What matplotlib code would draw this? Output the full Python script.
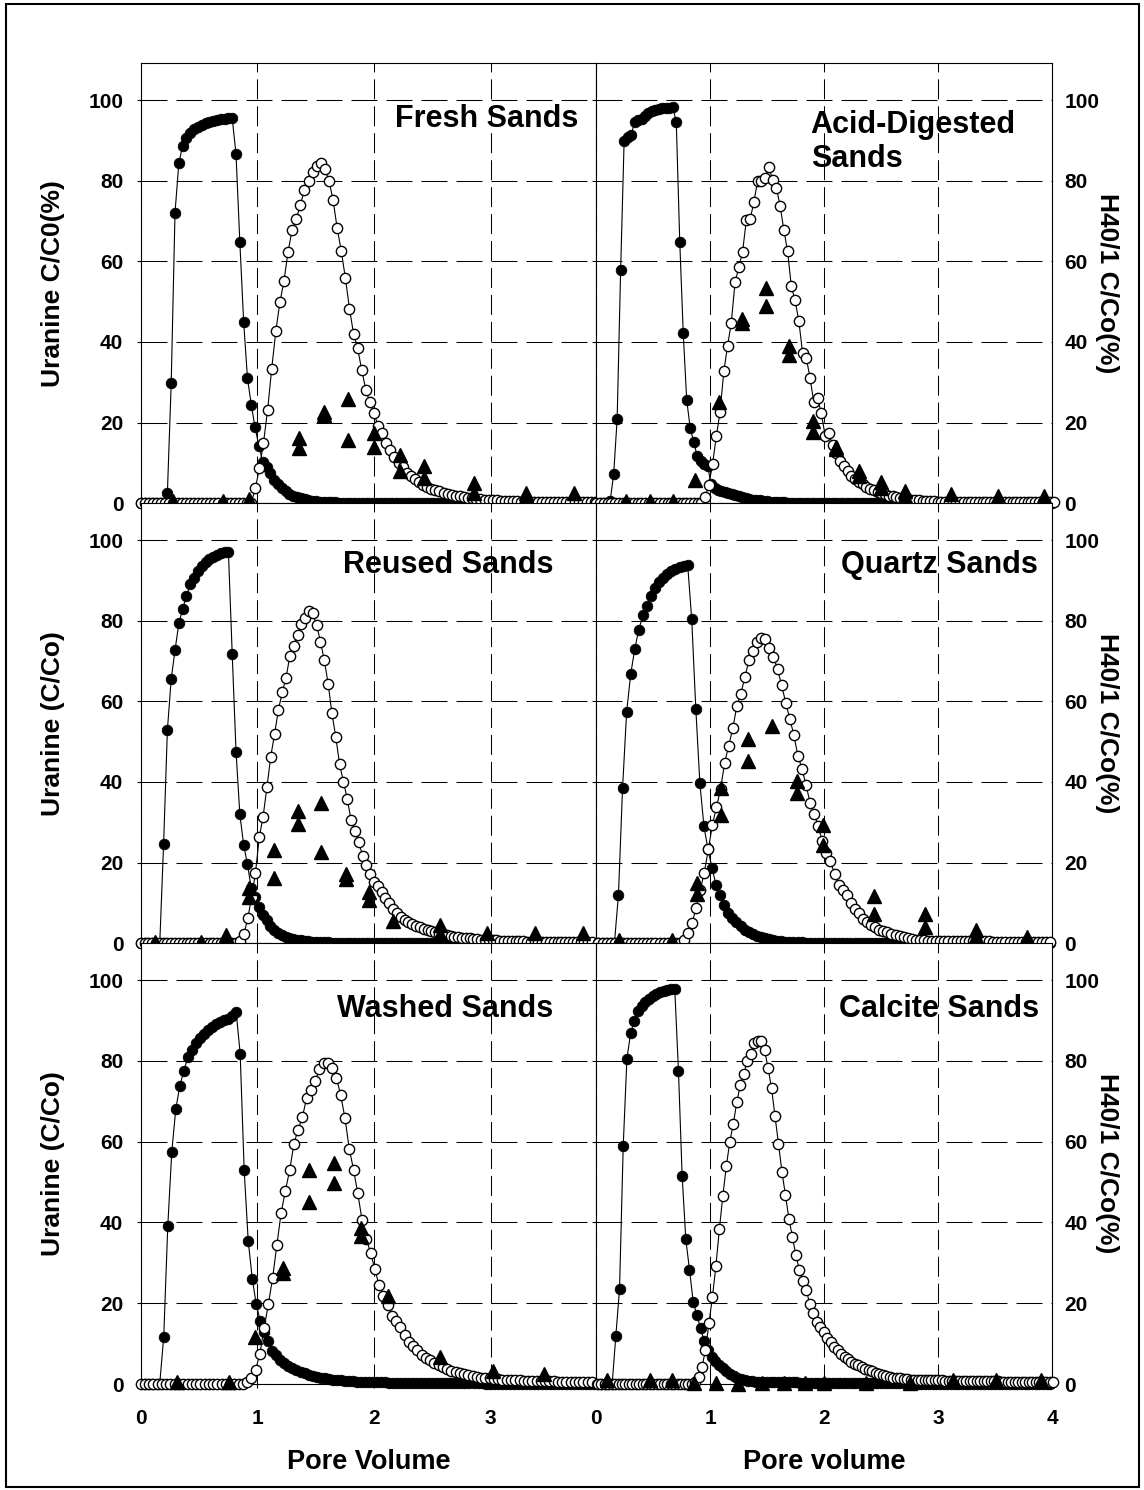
import numpy as np
import matplotlib
matplotlib.use("Agg")
import matplotlib.pyplot as plt
from matplotlib.patches import Rectangle

plt.rcParams['font.family'] = ['Liberation Sans', 'DejaVu Sans']
plt.rcParams['font.weight'] = 'bold'
plt.rcParams['axes.linewidth'] = 0.8
plt.rcParams['lines.scale_dashes'] = False

# breakthrough curves: (first pore volume, sampling interval) + C/Co readings in %
# filled circles = uranine, open circles = H40/1, triangles = H40/1 duplicate samples

fresh_ura_grid = (0.0, 0.0327)
fresh_ura = [0.0] * 7 + [
    2.6, 29.8, 72.1, 84.3, 88.7, 90.5, 91.8, 92.8, 93.4, 93.9, 94.3, 94.6, 94.9, 95.1,
    95.3, 95.4, 95.6, 95.5, 86.5, 64.7, 45.0, 31.0, 24.4, 18.8, 14.2, 10.3, 9.1, 7.4,
    5.8, 4.7, 3.8, 3.0, 2.4, 1.9, 1.5, 1.2, 1.0, 0.8, 0.6, 0.5, 0.4, 0.3, 0.3, 0.2,
    0.2, 0.1] + [0.0] * 67
fresh_h40_grid = (0.0, 0.0351)
fresh_h40 = [0.0] * 28 + [
    3.7, 8.7, 15.0, 23.1, 33.3, 42.6, 49.8, 55.1, 62.4, 67.8, 70.4, 74.0, 77.7, 79.9,
    82.2, 83.7, 84.5, 82.9, 80.0, 75.2, 68.2, 62.6, 55.9, 48.3, 42.1, 38.4, 33.1, 28.1,
    25.0, 22.3, 19.2, 17.4, 15.0, 13.2, 11.6, 9.9, 9.1, 7.6, 6.8, 6.0, 5.2, 4.5, 4.0,
    3.6, 3.3, 3.0, 2.6, 2.3, 2.1, 1.8, 1.7, 1.5, 1.4, 1.2, 1.1, 1.0, 0.9, 0.8, 0.7,
    0.7, 0.6, 0.6, 0.5, 0.5, 0.5, 0.4, 0.4, 0.4, 0.4] + [0.3] * 6 + [0.2] * 9
fresh_tri_pv = [0.28, 0.71, 0.93, 1.36, 1.36, 1.57, 1.57, 1.78, 1.78, 2.00, 2.00,
                2.22, 2.22, 2.43, 2.43, 2.86, 2.86, 3.30, 3.30, 3.72]
fresh_tri = [0.5, 0.5, 1.0, 16.1, 13.6, 22.6, 21.8, 25.8, 15.7, 17.4, 14.0,
             12.0, 7.9, 9.3, 6.2, 5.0, 2.5, 2.6, 1.6, 2.5]

acid_ura_grid = (0.0, 0.0305)
acid_ura = [0.0] * 4 + [
    0.6, 7.3, 21.0, 57.9, 89.8, 90.8, 91.2, 94.5, 95.0, 95.4, 96.0, 96.8, 97.3, 97.5,
    97.8, 98.0, 98.0, 98.1, 98.3, 94.5, 64.9, 42.3, 25.6, 18.7, 15.2, 11.8, 10.6, 9.8,
    9.3, 4.8, 3.9, 3.4, 3.1, 2.8, 2.6, 2.3, 2.0, 1.8, 1.5, 1.3, 1.1, 0.9, 0.8, 0.7,
    0.6, 0.5, 0.4, 0.3, 0.3, 0.2, 0.2, 0.1] + [0.0] * 76
acid_h40_grid = (0.0, 0.0329)
acid_h40 = [0.0] * 29 + [
    1.5, 4.5, 9.8, 16.6, 22.7, 32.7, 39.1, 44.8, 54.9, 58.5, 62.4, 70.2, 70.4, 74.6,
    79.9, 79.9, 80.6, 83.5, 80.2, 78.3, 73.8, 67.8, 62.5, 53.8, 50.3, 45.2, 37.3, 36.0,
    31.0, 25.0, 26.0, 22.3, 16.8, 17.4, 14.5, 12.4, 10.6, 9.3, 7.9, 6.8, 6.0, 5.3, 4.7,
    4.1, 3.6, 3.2, 2.8, 2.5, 2.2, 1.9, 1.7, 1.5, 1.3, 1.1, 1.0, 0.9, 0.8, 0.7, 0.6,
    0.6, 0.5, 0.5] + [0.4] * 10 + [0.3] * 12 + [0.2] * 10
acid_tri_pv = [0.26, 0.47, 0.67, 0.87, 1.08, 1.28, 1.28, 1.49, 1.49, 1.69, 1.69, 1.90,
               1.90, 2.10, 2.10, 2.30, 2.30, 2.50, 2.50, 2.71, 2.71, 3.11, 3.52, 3.93]
acid_tri = [0.6, 0.6, 0.6, 5.8, 25.2, 45.6, 44.8, 53.5, 48.9, 38.9, 36.8, 20.4,
            17.7, 13.9, 13.5, 7.9, 6.8, 5.2, 3.9, 3.1, 1.8, 2.3, 1.8, 1.8]

reused_ura_grid = (0.0, 0.0327)
reused_ura = [0.0] * 6 + [
    24.5, 52.9, 65.5, 72.7, 79.3, 82.9, 86.1, 89.1, 90.5, 92.4, 93.6, 94.6, 95.3, 95.9,
    96.4, 96.8, 97.0, 97.1, 71.7, 47.5, 32.0, 24.4, 19.6, 13.6, 11.6, 9.1, 7.0, 5.8,
    4.3, 3.3, 2.6, 2.0, 1.6, 1.3, 1.0, 0.8, 0.7, 0.6, 0.5, 0.4, 0.3, 0.3, 0.2, 0.2,
    0.1] + [0.0] * 69
reused_h40_grid = (0.0, 0.0328)
reused_h40 = [0.0] * 26 + [
    0.6, 2.3, 6.2, 11.5, 17.4, 26.3, 31.4, 38.7, 46.3, 51.9, 57.9, 62.2, 65.8, 71.3,
    73.8, 76.4, 79.2, 80.6, 82.5, 81.8, 78.9, 74.8, 70.2, 64.4, 57.0, 51.2, 44.4, 40.1,
    35.8, 30.6, 27.9, 25.2, 21.7, 19.3, 17.1, 15.3, 14.3, 12.6, 11.2, 9.9, 8.4, 7.4,
    6.6, 5.9, 5.3, 4.8, 4.4, 4.0, 3.6, 3.3, 3.0, 2.7, 2.4, 2.2, 2.0, 1.8, 1.6, 1.5,
    1.4, 1.3, 1.2, 1.1, 1.0, 0.9, 0.8, 0.8, 0.7, 0.7, 0.6, 0.6, 0.6, 0.5, 0.5, 0.5,
    0.5] + [0.4] * 18
reused_tri_pv = [0.12, 0.52, 0.73, 0.93, 0.93, 1.14, 1.14, 1.35, 1.35, 1.55, 1.55,
                 1.76, 1.76, 1.96, 1.96, 2.16, 2.57, 2.57, 2.97, 3.38, 3.79]
reused_tri = [0.4, 0.4, 2.1, 13.6, 11.6, 23.1, 16.1, 32.9, 29.5, 34.7, 22.7,
              17.1, 16.0, 12.6, 10.7, 5.6, 4.5, 2.3, 2.5, 2.5, 2.5]

quartz_ura_grid = (0.016, 0.0357)
quartz_ura = [0.0] * 5 + [
    12.1, 38.4, 57.3, 66.7, 73.0, 77.8, 81.3, 83.6, 86.1, 88.2, 89.5, 90.6, 91.5, 92.2,
    92.8, 93.2, 93.6, 93.9, 80.3, 58.2, 39.7, 29.0, 23.3, 18.6, 14.4, 11.9, 9.4, 7.5,
    6.3, 5.3, 4.2, 3.4, 2.8, 2.3, 1.9, 1.5, 1.2, 1.0, 0.8, 0.6, 0.5, 0.4, 0.3, 0.3,
    0.2, 0.2, 0.1] + [0.0] * 60
quartz_h40_grid = (0.019, 0.0357)
quartz_h40 = [0.0] * 21 + [
    0.8, 2.5, 5.0, 8.8, 13.2, 17.5, 23.3, 29.4, 33.8, 38.2, 44.8, 49.0, 53.3, 58.8,
    61.9, 66.1, 70.3, 72.5, 74.7, 75.8, 75.4, 73.3, 71.1, 68.0, 64.0, 59.7, 55.7, 51.7,
    46.5, 43.3, 39.3, 34.8, 32.1, 29.0, 25.3, 22.5, 20.3, 17.3, 14.4, 13.3, 11.9, 10.0,
    8.6, 7.5, 6.1, 5.3, 4.6, 4.0, 3.4, 3.0, 2.7, 2.3, 2.0, 1.8, 1.5, 1.3, 1.1, 0.9,
    0.8, 0.7] + [0.6] * 8 + [0.5] * 8 + [0.4] * 8 + [0.3] * 7
quartz_tri_pv = [0.20, 0.66, 0.88, 0.88, 1.09, 1.09, 1.33, 1.33, 1.54, 1.76, 1.76,
                 1.99, 1.99, 2.44, 2.44, 2.88, 2.88, 3.33, 3.33, 3.78]
quartz_tri = [0.7, 0.8, 15.0, 12.3, 38.6, 31.9, 50.7, 45.3, 54.0, 40.3, 37.3,
              29.4, 24.4, 11.7, 7.3, 7.3, 4.0, 3.2, 1.9, 1.5]

washed_ura_grid = (0.025, 0.0345)
washed_ura = [0.0] * 5 + [
    11.7, 39.0, 57.5, 68.1, 73.8, 77.6, 80.9, 82.7, 84.5, 85.6, 86.7, 87.6, 88.4, 89.1,
    89.6, 90.0, 90.4, 91.0, 92.1, 81.8, 52.9, 35.4, 26.1, 19.7, 15.6, 12.8, 10.6, 8.2,
    7.3, 6.0, 5.2, 4.5, 3.9, 3.4, 3.0, 2.6, 2.3, 2.0, 1.8, 1.6, 1.4, 1.3, 1.1, 1.0,
    0.9, 0.8, 0.7, 0.7, 0.6, 0.6, 0.5, 0.5, 0.5, 0.4, 0.4, 0.4, 0.3, 0.3, 0.3,
    0.3] + [0.2] * 20 + [0.1] * 28
washed_h40_grid = (0.0, 0.0365)
washed_h40 = [0.0] * 25 + [
    0.5, 1.6, 3.5, 7.5, 13.9, 19.8, 26.3, 34.5, 42.4, 47.9, 52.9, 59.5, 63.0, 66.1,
    70.9, 72.8, 75.0, 77.9, 79.4, 79.5, 78.3, 75.7, 71.5, 65.8, 58.2, 53.1, 47.2, 40.6,
    36.0, 32.5, 28.5, 24.4, 21.9, 19.6, 16.9, 15.6, 14.0, 12.1, 10.4, 9.3, 8.4, 7.3,
    6.4, 6.0, 5.1, 4.6, 4.2, 3.8, 3.3, 2.9, 2.6, 2.5, 2.2, 1.9, 1.8, 1.6, 1.5, 1.4,
    1.3, 1.2, 1.1, 1.0, 1.0, 0.9, 0.9] + [0.8] * 4 + [0.7] * 4 + [0.6] * 4 + [0.5] * 3 + [0.4] * 2
washed_tri_pv = [0.31, 0.76, 0.98, 1.22, 1.22, 1.44, 1.44, 1.66, 1.66, 1.89, 1.89,
                 2.12, 2.57, 3.02, 3.46]
washed_tri = [0.5, 0.5, 11.7, 28.8, 27.5, 52.9, 45.0, 54.6, 49.8, 38.6, 36.7,
              21.8, 6.7, 3.3, 2.5]

calcite_ura_grid = (0.01, 0.0323)
calcite_ura = [0.0] * 5 + [
    12.0, 23.5, 58.9, 80.5, 86.8, 89.9, 92.3, 93.5, 94.5, 95.3, 96.0, 96.5, 97.0, 97.3,
    97.5, 97.7, 97.8, 77.6, 51.6, 35.8, 28.3, 20.4, 17.0, 13.8, 10.6, 8.5, 6.6, 5.7,
    4.8, 4.0, 3.1, 2.5, 2.0, 1.6, 1.3, 1.0, 0.8, 0.7, 0.6,
    0.5] + [0.4] * 10 + [0.3] * 15 + [0.2] * 15 + [0.1] * 10 + [0.0] * 29
calcite_h40_grid = (0.012, 0.0305)
calcite_h40 = [0.0] * 28 + [
    0.5, 1.8, 4.1, 8.5, 15.0, 21.5, 29.2, 38.3, 46.6, 53.9, 60.0, 64.4, 69.7, 73.9,
    76.7, 80.0, 81.8, 84.4, 84.9, 84.9, 82.7, 78.3, 73.2, 66.4, 59.5, 52.5, 46.8, 40.9,
    36.5, 31.9, 28.3, 25.5, 23.3, 19.8, 17.6, 15.4, 14.1, 12.8, 11.4, 10.3, 9.2, 8.4,
    7.5, 6.8, 6.2, 5.5, 5.0, 4.6, 4.1, 3.8, 3.4, 3.1, 2.7, 2.5, 2.2, 1.9, 1.8, 1.6,
    1.5, 1.4, 1.3, 1.2, 1.1, 1.0] + [0.9] * 8 + [0.8] * 8 + [0.7] * 8 + [0.6] * 8 + [0.5] * 8
calcite_tri_pv = [0.09, 0.47, 0.66, 0.86, 1.05, 1.24, 1.45, 1.65, 1.83, 2.00, 2.37,
                  2.75, 3.13, 3.51, 3.90]
calcite_tri = [0.9, 0.9, 0.9, 0.3, 0.3, 0.0, 0.3, 0.3, 0.3, 0.3, 0.3,
               0.3, 0.9, 0.9, 0.9]

left_ylabels = ['Uranine C/C0(%)', 'Uranine (C/Co)', 'Uranine (C/Co)']
right_ylabel = 'H40/1 C/Co(%)'


def pv(grid, values):
    start, step = grid
    return start + step * np.arange(len(values))


W, H = 1144, 1490
fig = plt.figure(figsize=(W / 100, H / 100), dpi=100)

col_x = [(140.7, 455.6), (596.3, 456.0)]
row_y = [(63.3, 503.3), (503.3, 943.3), (943.3, 1384.0)]

panels = [
    (0, 0, fresh_ura_grid, fresh_ura, fresh_h40_grid, fresh_h40, fresh_tri_pv, fresh_tri,
     [('Fresh Sands', 2.97, 93.4, 'center')]),
    (0, 1, acid_ura_grid, acid_ura, acid_h40_grid, acid_h40, acid_tri_pv, acid_tri,
     [('Acid-Digested', 1.88, 91.7, 'left'), ('Sands', 1.88, 83.5, 'left')]),
    (1, 0, reused_ura_grid, reused_ura, reused_h40_grid, reused_h40, reused_tri_pv, reused_tri,
     [('Reused Sands', 2.64, 91.7, 'center')]),
    (1, 1, quartz_ura_grid, quartz_ura, quartz_h40_grid, quartz_h40, quartz_tri_pv, quartz_tri,
     [('Quartz Sands', 3.01, 91.7, 'center')]),
    (2, 0, washed_ura_grid, washed_ura, washed_h40_grid, washed_h40, washed_tri_pv, washed_tri,
     [('Washed Sands', 2.61, 90.8, 'center')]),
    (2, 1, calcite_ura_grid, calcite_ura, calcite_h40_grid, calcite_h40, calcite_tri_pv, calcite_tri,
     [('Calcite Sands', 3.01, 90.9, 'center')]),
]

for row, col, ug, uy, hg, hy, tx, ty, titles in panels:
    x0, w = col_x[col]
    top, bot = row_y[row]
    ax = fig.add_axes([x0 / W, 1 - bot / H, w / W, (bot - top) / H])

    ax.plot(pv(ug, uy), uy, '-o', color='black', lw=0.8, ms=7.6, mfc='black',
            mec='black', mew=0.6, clip_on=False, zorder=3)
    ax.plot(pv(hg, hy), hy, '-o', color='black', lw=0.8, ms=7.4, mfc='white',
            mec='black', mew=1.0, clip_on=False, zorder=4)
    ax.plot(tx, ty, '^', ls='none', ms=9.5, color='black', clip_on=False, zorder=5)

    ax.set_ylim(0, 109.1)
    ax.set_yticks(range(0, 101, 20))
    if col == 0:
        ax.set_xlim(0, 3.907)
        ax.set_xticks([0, 1, 2, 3])
    else:
        ax.set_xlim(0, 4)
        ax.set_xticks([0, 1, 2, 3, 4])

    ax.yaxis.grid(True, ls=(0, (18.7, 6.5)), color='black', lw=0.75)
    ax.xaxis.grid(True, ls=(0, (14.4, 5.0)), color='black', lw=0.75)

    ax.tick_params(axis='x', direction='out', length=3, width=0.8, pad=15,
                   labelsize=15, labelbottom=(row == 2))
    if col == 0:
        ax.tick_params(axis='y', direction='out', length=3, width=0.8, pad=9.5,
                       labelsize=15, left=True, right=False)
        ax.set_ylabel(left_ylabels[row], fontsize=19, fontweight='bold', va='center')
        ax.yaxis.set_label_coords(-0.1925, 0.5)
    else:
        ax.tick_params(axis='y', direction='out', length=3, width=0.8, pad=5.6,
                       labelsize=15, left=True, right=False,
                       labelleft=False, labelright=True)
        ax.yaxis.set_label_position('right')
        ax.set_ylabel(right_ylabel, fontsize=19, fontweight='bold',
                      rotation=270, va='center')
        ax.yaxis.set_label_coords(1.12, 0.5)

    if row == 2:
        ax.set_xlabel('Pore Volume' if col == 0 else 'Pore volume',
                      fontsize=19.5, fontweight='bold', va='center')
        ax.xaxis.set_label_coords(0.5, -0.177)

    for text, tx_, ty_, ha in titles:
        ax.text(tx_, ty_, text, ha=ha, va='baseline', fontsize=22,
                fontweight='bold', zorder=6)

# outer frame around the whole figure
fig.add_artist(Rectangle((6 / W, 1 - 1487 / H), 1133 / W, 1483 / H,
                         transform=fig.transFigure, fill=False,
                         lw=1.5, ec='black'))

fig.savefig('out.png', dpi=100, facecolor='white')
